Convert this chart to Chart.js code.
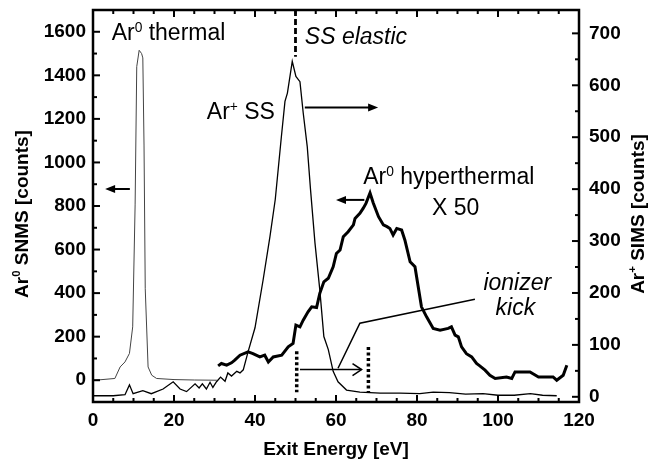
<!DOCTYPE html>
<html>
<head>
<meta charset="utf-8">
<script src="https://cdn.jsdelivr.net/npm/chart.js@4.4.1/dist/chart.umd.min.js"></script>
<style>
  html, body { margin: 0; padding: 0; background: #fff; }
  canvas { display: block; }
</style>
</head>
<body>
<canvas id="chart" width="650" height="461"></canvas>
<script>
// Ar0 thermal, SNMS counts (left axis)
const thermalEnergy = [0, 1.7, 5.4, 6.7, 7.9, 9.0, 9.8, 10.4, 10.8, 11.4, 12.0, 12.3, 12.6, 12.9, 13.6, 14.5, 15.7, 20, 25, 30.6];
const thermalCounts = [0, 2, 8, 61, 84, 123, 245, 805, 1440, 1515, 1500, 1480, 1080, 420, 61, 23, 8, 3, 1, 0];

// Ar+ SS, SIMS counts (right axis)
const ssEnergy = [0, 5, 7.9, 9.0, 9.9, 12.3, 14.4, 17.3, 19.8, 21.5, 23.1, 25.2, 26.2, 27, 28, 28.9, 29.6, 30.5, 31.5, 32.6,
  33.3, 34.2, 35.5, 36.3, 37.1, 38.3, 40, 42, 43.7, 45, 46.5, 47.4, 48, 49.2, 50.1, 51.1, 51.9, 52.9, 53.7, 54.8,
  56, 57, 58.1, 59.3, 60.5, 62.6, 65.9, 70.9, 75.8, 80.7, 84, 88, 92, 96.3, 100, 104, 108, 111, 114.5];
const ssCounts = [2, 2, 4, 23, 6, 12, 6, 15, 29, 15, 10, 25, 17, 25, 15, 28, 18, 29, 38, 30,
  46, 40, 49, 46, 52, 87, 133, 225, 309, 380, 500, 569, 585, 646, 617, 607, 547, 482, 400, 297,
  206, 116, 91, 49, 29, 13, 9, 7, 7, 6, 9, 8, 5, 6, 3, 3, 6, 3, 2];

// Ar0 hyperthermal x 50, SNMS counts (left axis)
const hyperEnergy = [30.9, 31.7, 33, 34.2, 35, 36.3, 38.3, 39.5, 41.2, 42.4, 43.3, 44.5, 46.6, 48.2, 49.4, 50.1, 51.1, 51.9, 53.1, 54,
  55.2, 56, 57, 58.1, 59.3, 60.1, 61, 61.8, 63, 64.3, 64.7, 65.9, 66.7, 67.4, 68.4, 69.2, 70.5, 71.7, 72.6, 73.3,
  74.1, 75, 76.2, 77, 78.3, 79.5, 80.3, 81.1, 82.4, 84, 85.7, 87.7, 88.5, 89.4, 90.2, 91, 92.2, 93.5, 94.7, 95.5,
  96.8, 98, 99.3, 102.1, 103.4, 104.2, 107.9, 110, 113.6, 114.5, 116.1, 117];
const hyperCounts = [66, 77, 69, 80, 92, 115, 130, 122, 107, 115, 84, 107, 115, 153, 169, 253, 245, 276, 314, 337,
  334, 399, 452, 468, 521, 582, 598, 659, 682, 713, 743, 766, 789, 812, 860, 814, 751, 713, 705, 697,
  667, 697, 690, 644, 544, 521, 429, 337, 290, 238, 230, 238, 245, 207, 199, 153, 122, 107, 77, 66,
  46, 23, 8, 15, 8, 38, 38, 15, 15, 0, 23, 69];

// tick labels
const energyTicks = [0, 20, 40, 60, 80, 100, 120];
const snmsTicks = [0, 200, 400, 600, 800, 1000, 1200, 1400, 1600];
const simsTicks = [0, 100, 200, 300, 400, 500, 600, 700];

const FONT = '"Liberation Sans", Arial, Helvetica, sans-serif';
const NOTE_SIZE = 23;

function toPoints(xs, ys) {
    return xs.map((x, i) => ({x: x, y: ys[i]}));
}

// draws a string made of [text, isSuperscript] parts, returns width
function drawParts(ctx, x, y, parts, size, style, measureOnly) {
    let cx = x;
    parts.forEach(([t, sup]) => {
        const s = sup ? size * 0.6 : size;
        ctx.font = style + ' ' + s + 'px ' + FONT;
        if (!measureOnly) ctx.fillText(t, cx, sup ? y - size * 0.34 : y);
        cx += ctx.measureText(t).width;
    });
    return cx - x;
}

function arrow(ctx, x1, y, x2, open) {
    const dir = x2 > x1 ? 1 : -1;
    ctx.beginPath();
    ctx.moveTo(x1, y);
    ctx.lineTo(open ? x2 : x2 - dir * 6, y);
    ctx.stroke();
    if (open) {
        ctx.beginPath();
        ctx.moveTo(x2 - dir * 9, y - 6);
        ctx.lineTo(x2, y);
        ctx.lineTo(x2 - dir * 9, y + 6);
        ctx.stroke();
    } else {
        ctx.beginPath();
        ctx.moveTo(x2, y);
        ctx.lineTo(x2 - dir * 10, y - 4);
        ctx.lineTo(x2 - dir * 10, y + 4);
        ctx.closePath();
        ctx.fill();
    }
}

const frameTicks = {
    id: 'frameTicks',
    afterDraw(chart) {
        const {ctx, chartArea: a, scales} = chart;
        const seg = (x1, y1, x2, y2) => { ctx.beginPath(); ctx.moveTo(x1, y1); ctx.lineTo(x2, y2); ctx.stroke(); };
        ctx.save();
        ctx.strokeStyle = '#000';
        ctx.lineWidth = 2;
        for (let v = 0; v <= 120; v += 5) {
            const px = scales.x.getPixelForValue(v);
            const len = v % 20 === 0 ? 7 : 4;
            seg(px, a.bottom, px, a.bottom - len);
            seg(px, a.top, px, a.top + len);
        }
        for (let v = -100; v <= 1700; v += 100) {
            const py = scales.y.getPixelForValue(v);
            seg(a.left, py, a.left + (v % 200 === 0 ? 7 : 4), py);
        }
        for (let v = 0; v <= 700; v += 50) {
            const py = scales.y2.getPixelForValue(v);
            seg(a.right, py, a.right - (v % 100 === 0 ? 7 : 4), py);
        }
        ctx.lineWidth = 2.5;
        ctx.strokeRect(a.left, a.top, a.width, a.height);

        // rotated axis titles (both read bottom to top)
        ctx.fillStyle = '#000';
        ctx.textBaseline = 'middle';
        const titles = [
            [23, [['Ar', false], ['0', true], [' SNMS [counts]', false]]],
            [639, [['Ar', false], ['+', true], [' SIMS [counts]', false]]]
        ];
        titles.forEach(([tx, parts]) => {
            const w = drawParts(ctx, 0, 0, parts, 19, 'bold', true);
            ctx.save();
            ctx.translate(tx, (a.top + a.bottom) / 2 + 8);
            ctx.rotate(-Math.PI / 2);
            drawParts(ctx, -w / 2, 0, parts, 19, 'bold', false);
            ctx.restore();
        });
        ctx.restore();
    }
};

const notes = {
    id: 'notes',
    afterDatasetsDraw(chart) {
        const {ctx, scales} = chart;
        const X = v => scales.x.getPixelForValue(v);
        const Y = v => scales.y.getPixelForValue(v);
        ctx.save();
        ctx.fillStyle = '#000';
        ctx.strokeStyle = '#000';
        ctx.textBaseline = 'alphabetic';
        ctx.textAlign = 'left';

        drawParts(ctx, X(4.6), Y(1563), [['Ar', false], ['0', true], [' thermal', false]], NOTE_SIZE, 'normal');
        drawParts(ctx, X(52.3), Y(1543), [['SS elastic', false]], NOTE_SIZE, 'italic');
        drawParts(ctx, X(28.1), Y(1200), [['Ar', false], ['+', true], [' SS', false]], NOTE_SIZE, 'normal');
        drawParts(ctx, X(66.7), Y(901), [['Ar', false], ['0', true], [' hyperthermal', false]], NOTE_SIZE, 'normal');
        drawParts(ctx, X(83.7), Y(759), [['X 50', false]], NOTE_SIZE, 'normal');
        drawParts(ctx, X(96.4), Y(414), [['ionizer', false]], NOTE_SIZE, 'italic');
        drawParts(ctx, X(99.4), Y(299), [['kick', false]], NOTE_SIZE, 'italic');

        // arrows telling which axis
        ctx.lineWidth = 2;
        arrow(ctx, X(9.1), Y(878), X(3.0), false);
        arrow(ctx, X(52.3), Y(1252), X(70.4), false);
        arrow(ctx, X(67), Y(828), X(60), false);
        ctx.lineWidth = 1.6;
        arrow(ctx, X(51.1), Y(49), X(66.3), true);

        // kick pointer
        ctx.lineWidth = 1.5;
        ctx.beginPath();
        ctx.moveTo(X(60.5), Y(55));
        ctx.lineTo(X(65.9), Y(262));
        ctx.lineTo(X(94.3), Y(372));
        ctx.stroke();

        // SS elastic marker
        ctx.lineWidth = 2.8;
        ctx.setLineDash([6, 3]);
        ctx.beginPath();
        ctx.moveTo(X(50), Y(1700));
        ctx.lineTo(X(50), Y(1485));
        ctx.stroke();

        // dotted limits
        ctx.lineWidth = 3.5;
        ctx.setLineDash([3, 2.5]);
        [[50.3, 133], [68, 152]].forEach(([e, top]) => {
            ctx.beginPath();
            ctx.moveTo(X(e), Y(top));
            ctx.lineTo(X(e), Y(-55));
            ctx.stroke();
        });
        ctx.restore();
    }
};

const tickFont = {family: FONT, size: 19, weight: 'bold'};
const plain = v => String(v);

new Chart(document.getElementById('chart'), {
    type: 'line',
    data: {
        datasets: [
            {
                label: 'Ar0 thermal',
                data: toPoints(thermalEnergy, thermalCounts),
                yAxisID: 'y',
                borderColor: '#444',
                borderWidth: 1,
                pointRadius: 0,
                tension: 0
            },
            {
                label: 'Ar+ SS',
                data: toPoints(ssEnergy, ssCounts),
                yAxisID: 'y2',
                borderColor: '#000',
                borderWidth: 1.3,
                pointRadius: 0,
                tension: 0
            },
            {
                label: 'Ar0 hyperthermal X 50',
                data: toPoints(hyperEnergy, hyperCounts),
                yAxisID: 'y',
                borderColor: '#000',
                borderWidth: 3,
                pointRadius: 0,
                tension: 0
            }
        ]
    },
    options: {
        responsive: false,
        animation: false,
        events: [],
        layout: {padding: {top: 10, left: 0, right: 0, bottom: 0}},
        plugins: {legend: {display: false}, tooltip: {enabled: false}},
        scales: {
            x: {
                type: 'linear',
                min: 0,
                max: 120,
                grid: {display: false, drawTicks: false},
                border: {display: false},
                afterBuildTicks: s => { s.ticks = energyTicks.map(v => ({value: v})); },
                afterFit: s => { s.height = 59; s.paddingLeft = 0; s.paddingRight = 0; },
                ticks: {font: tickFont, color: '#000', padding: 7, maxRotation: 0, autoSkip: false, callback: plain},
                title: {display: true, text: 'Exit Energy [eV]', color: '#000', font: {family: FONT, size: 19, weight: 'bold'}, padding: {top: 0, bottom: 0}}
            },
            y: {
                type: 'linear',
                position: 'left',
                min: -100,
                max: 1700,
                grid: {display: false, drawTicks: false},
                border: {display: false},
                afterBuildTicks: s => { s.ticks = snmsTicks.map(v => ({value: v})); },
                afterFit: s => { s.width = 93; s.paddingTop = 0; s.paddingBottom = 0; },
                ticks: {font: tickFont, color: '#000', padding: 7, autoSkip: false, callback: plain}
            },
            y2: {
                type: 'linear',
                position: 'right',
                min: -10,
                max: 745,
                grid: {display: false, drawTicks: false},
                border: {display: false},
                afterBuildTicks: s => { s.ticks = simsTicks.map(v => ({value: v})); },
                afterFit: s => { s.width = 71; s.paddingTop = 0; s.paddingBottom = 0; },
                ticks: {font: tickFont, color: '#000', padding: 10, autoSkip: false, callback: plain}
            }
        }
    },
    plugins: [notes, frameTicks]
});
</script>
</body>
</html>
